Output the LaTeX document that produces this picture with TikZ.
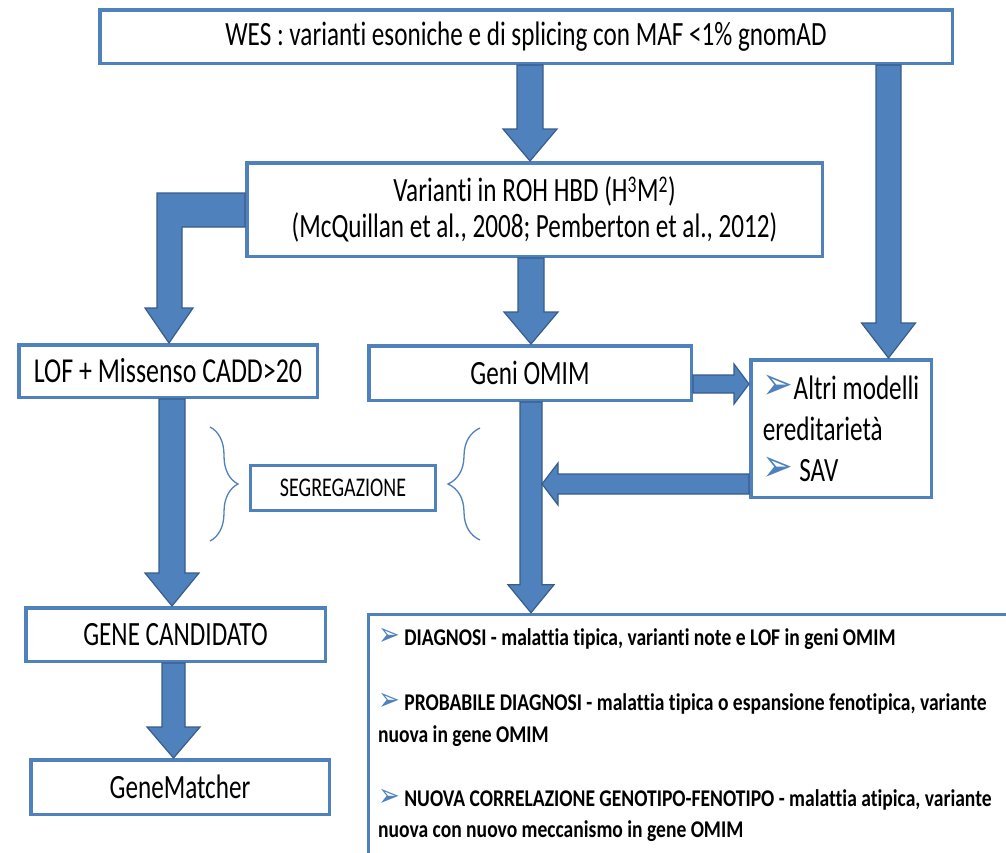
\documentclass[tikz,border=0pt]{standalone}
\usepackage{fontspec}
\usepackage{graphicx}
\setmainfont{Carlito}[FakeStretch=0.74, Ligatures=NoCommon]
\newfontfamily\listfont{Carlito}[FakeStretch=0.815, Ligatures=NoCommon]
\newfontfamily\symfont{DejaVu Sans}[FakeStretch=0.8]
\usetikzlibrary{calc,decorations.pathreplacing}
\definecolor{boxblue}{RGB}{79,129,189}
\definecolor{edgeblue}{RGB}{56,93,138}
\newcommand{\bul}{{\symfont\color{boxblue}\scalebox{1.35}{➢}}}
% vertical block arrow: start, tip, half shaft, half head, head length
\newcommand{\vblock}[5]{%
  \filldraw[blockarrow] let \p1=(#1), \p2=(#2) in
    ({\x2-#3pt},\y1) -- ({\x2+#3pt},\y1) -- ({\x2+#3pt},{\y2+#5pt}) -- ({\x2+#4pt},{\y2+#5pt})
    -- (\x2,\y2) -- ({\x2-#4pt},{\y2+#5pt}) -- ({\x2-#3pt},{\y2+#5pt}) -- cycle;}
% horizontal block arrow: start, tip, half shaft, half head, head length, direction
\newcommand{\hblock}[6]{%
  \filldraw[blockarrow] let \p1=(#1), \p2=(#2) in
    (\x1,{\y2+#3pt}) -- ({\x2-(#6)*#5pt},{\y2+#3pt}) -- ({\x2-(#6)*#5pt},{\y2+#4pt})
    -- (\x2,\y2) -- ({\x2-(#6)*#5pt},{\y2-#4pt}) -- ({\x2-(#6)*#5pt},{\y2-#3pt}) -- (\x1,{\y2-#3pt}) -- cycle;}
\tikzset{
  flowbox/.style={draw=boxblue, line width=3.5pt, fill=white, inner sep=0pt,
    font=\fontsize{34}{36}\selectfont},
  blockarrow/.style={fill=boxblue, draw=edgeblue, line width=1.2pt, line join=miter},
  bracket/.style={draw=boxblue, line width=1.3pt, decorate, decoration={brace, amplitude=#1}},
  listtext/.style={anchor=base west, inner sep=0pt, font=\listfont\fontsize{24}{32}\selectfont\bfseries},
}
\begin{document}
\begin{tikzpicture}[x=1pt, y=-1pt]
    \useasboundingbox (0,0) rectangle (1006,852);
    \clip (0,0) rectangle (1006,852);
    % Draw boxes
    \node[flowbox, minimum width=852.5, minimum height=53.5] (wes) at (526,36.5)
        {WES : varianti esoniche e di splicing con MAF <1\% gnomAD};
    \node[flowbox, minimum width=575.5, minimum height=93.5, align=center] (var) at (534.5,209.5)
        {Varianti in ROH HBD (H\textsuperscript{3}M\textsuperscript{2})\\
         (McQuillan et al., 2008; Pemberton et al., 2012)};
    \node[flowbox, minimum width=298.5, minimum height=52.5,
        font=\fontsize{35}{36}\selectfont] (lof) at (168,371) {LOF + Missenso CADD>20};
    \node[flowbox, minimum width=322.5, minimum height=54.5] (geni) at (530,373) {Geni OMIM};
    \node[flowbox, minimum width=180.5, minimum height=137.5, align=left,
        font=\fontsize{34}{41}\selectfont] (altri) at (841,428.5)
        {\bul Altri modelli\\ereditariet\`a\\\bul\ SAV};
    \node[flowbox, line width=3pt, minimum width=185, minimum height=45,
        font=\fontsize{27}{28}\selectfont] (seg) at (343,488) {SEGREGAZIONE};
    \node[flowbox, minimum width=299.5, minimum height=53.5] (gene) at (175.5,634.5) {GENE CANDIDATO};
    \node[flowbox, minimum width=298.5, minimum height=54.5] (gm) at (180,787) {GeneMatcher};
    \node[flowbox, minimum width=671, minimum height=285] (diag) at (704,757) {};
    % Text of the last box
    \node[listtext] (d1) at (378,645) {\bul\ DIAGNOSI - malattia tipica, varianti note e LOF in geni OMIM};
    \node[listtext] (d2) at (378,710) {\bul\ PROBABILE DIAGNOSI - malattia tipica o espansione fenotipica, variante};
    \node[listtext] (d2b) at (378,742) {nuova in gene OMIM};
    \node[listtext] (d3) at (378,806) {\bul\ NUOVA CORRELAZIONE GENOTIPO-FENOTIPO - malattia atipica, variante};
    \node[listtext] (d3b) at (378,837) {nuova con nuovo meccanismo in gene OMIM};
    % Braces round the segregation box
    \draw[bracket=28] (210,427) -- (210,541);
    \draw[bracket=32] (480,540) -- (480,428);
    % Block arrows
    \vblock{wes.south}{530,0 |- var.north}{13}{27}{32}
    \vblock{var.south}{531,0 |- geni.north}{13}{27}{32}
    \vblock{wes.south}{888.5,0 |- altri.north}{12.5}{27}{35}
    \vblock{lof.south}{172,0 |- gene.north}{13}{27}{33}
    \vblock{gene.south}{173.5,0 |- gm.north}{11.5}{26.5}{31}
    \vblock{geni.south}{531,0 |- diag.north}{11}{23}{28}
    \hblock{geni.east}{altri.west |- 0,384}{9}{20}{15}{1}
    \coordinate (join) at (542,484);
    \hblock{altri.west}{join}{10}{21}{16}{-1}
    % bent arrow to the left branch
    \coordinate (bend) at (157,193);
    \coordinate (bendin) at (182,227);
    \coordinate (lofhead) at (169,308);
    \filldraw[blockarrow] (var.west |- bend) -- (bend) -- (bend |- lofhead) -- ++(-12,0)
        -- (lof.north -| lofhead) -- ($(lofhead)+(24,0)$) -- (bendin |- lofhead)
        -- (bendin) -- (var.west |- bendin) -- cycle;
\end{tikzpicture}
\end{document}
